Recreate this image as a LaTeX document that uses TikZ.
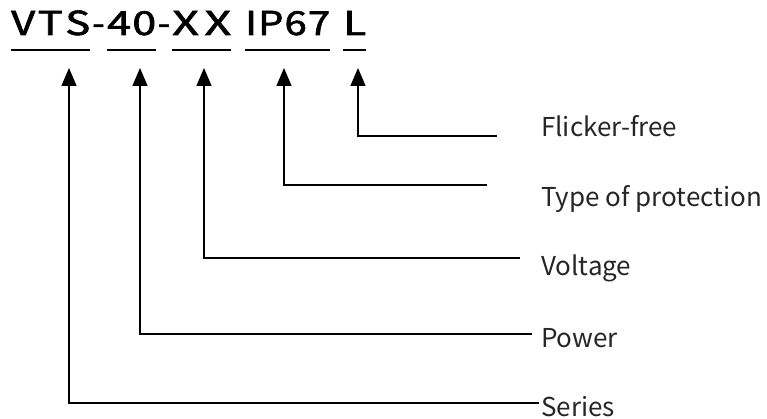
\documentclass[tikz,border=0pt]{standalone}
\usepackage{fontspec}
\setmainfont{Noto Sans CJK SC}
\newfontfamily\ttlfont[FakeBold=1.8]{Noto Sans CJK SC}
\usetikzlibrary{arrows.meta}
\newcommand\fitw[2]{\sbox0{#2}\pgfmathsetmacro\fitfac{#1/\the\wd0}\scalebox{\fitfac}[1]{\usebox0}}
\begin{document}
\begin{tikzpicture}[x=1pt,y=-1pt,
  lbl/.style={anchor=base west, inner sep=0pt, font=\fontsize{26}{31}\selectfont, text=black!85},
  seg/.style={anchor=base west, inner sep=0pt, font=\ttlfont\fontsize{33}{38}\selectfont},
  hyph/.style={anchor=base, inner sep=0pt, font=\ttlfont\fontsize{33}{38}\selectfont},
  uline/.style={line width=2pt},
  lead/.style={line width=1.5pt, -{Triangle[length=18pt,width=15pt]}}]
\useasboundingbox (0,0) rectangle (767,419);
% title segments
\node[seg] (vts) at (11,35) {\fitw{79pt}{V\kern2pt T\kern2pt S}};
\node[hyph] (h1) at (98.5,35) {\scalebox{1.1}[1]{-}};
\node[seg] (forty) at (107,35) {\fitw{49pt}{4\kern1pt 0}};
\node[hyph] (h2) at (164,35) {\scalebox{1.1}[1]{-}};
\node[seg] (xx) at (172,35) {\fitw{59pt}{X\kern4pt X}};
\node[seg] (ip) at (245,35) {\fitw{85pt}{I\kern1pt P\kern1pt 6\kern1pt 7}};
\node[seg] (ll) at (343,35) {\fitw{23pt}{L}};
\foreach \s in {vts,forty,xx,ip,ll}{
  \draw[uline] ([yshift=-15pt]\s.base west) -- ([yshift=-15pt]\s.base east);
}
% labels
\node[lbl] (flk) at (541,137) {Flicker-free};
\node[lbl] (typ) at (541,207) {Type of protection};
\node[lbl] (vol) at (541,275) {Voltage};
\node[lbl] (pow) at (541,347) {Power};
\node[lbl] (ser) at (541,416) {Series};
% leader coordinates
\coordinate (tL) at (358,68);  \coordinate (eL) at (497,136);
\coordinate (tI) at (284,68);  \coordinate (eI) at (487,185);
\coordinate (tX) at (204,68);  \coordinate (eX) at (520,258);
\coordinate (tF) at (140,68);  \coordinate (eF) at (532,334);
\coordinate (tV) at (69,68);   \coordinate (eV) at (539,403);
\draw[lead] (eL) -| (tL);
\draw[lead] (eI) -| (tI);
\draw[lead] (eX) -| (tX);
\draw[lead] (eF) -| (tF);
\draw[lead] (eV) -| (tV);
\end{tikzpicture}
\end{document}
